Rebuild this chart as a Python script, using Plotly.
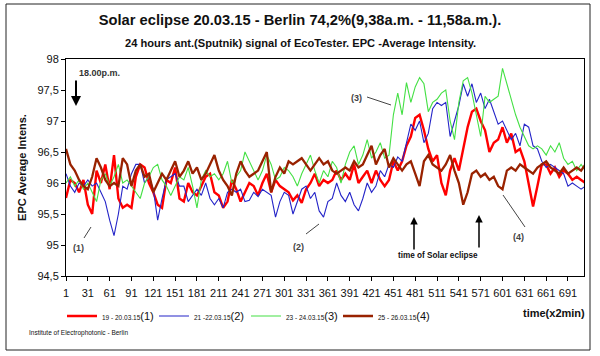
import plotly.graph_objects as go

# sample positions (time index, x2min)
x_idx = list(range(1, 716, 6))

tick_vals = [1, 31, 61, 91, 121, 151, 181, 211, 241, 271, 301, 331, 361, 391,
             421, 451, 481, 511, 541, 571, 601, 631, 661, 691]
y_tick_vals = [94.5, 95, 95.5, 96, 96.5, 97, 97.5, 98]
y_tick_text = ["94,5", "95", "95,5", "96", "96,5", "97", "97,5", "98"]

s1_19_20 = [
    95.76, 96.05, 96.0, 95.85, 96.05, 95.65, 95.5, 96.2, 96.0, 96.3,
    95.9, 96.45, 95.75, 95.6, 95.65, 95.6, 96.1, 96.3, 96.25, 96.0,
    95.85, 95.65, 95.6, 96.05, 96.0, 96.25, 95.75, 95.7, 96.0, 95.85,
    95.8, 95.95, 96.1, 96.15, 95.85, 95.8, 95.6, 95.7, 96.05, 95.9,
    95.7, 95.85, 96.0, 95.95, 95.8, 96.0, 96.15, 95.85, 96.05, 95.95,
    95.9, 95.85, 95.72, 95.8, 95.68, 95.9, 96.0, 96.15, 95.95, 96.05,
    96.0, 96.05, 96.2, 96.05, 96.15, 96.05, 96.3, 96.0, 96.1, 96.2,
    96.0, 96.2, 96.05, 95.95, 96.05, 96.35, 96.2, 96.35, 96.6, 96.75,
    97.05, 97.1, 96.85, 96.55, 96.35, 96.45, 96.0, 95.8, 96.2, 96.4,
    96.2, 96.55, 96.9, 97.15, 97.2, 97.0, 96.85, 96.5, 96.65, 96.7,
    96.9, 96.65, 96.8, 96.5, 96.55, 96.35, 96.0, 95.62, 95.95, 96.3,
    96.3, 96.15, 96.25, 96.1, 96.2, 96.15, 96.05, 96.1, 96.05, 96.0]

s2_21_22 = [
    96.15, 95.95, 95.85, 96.0, 95.95, 96.05, 95.95, 96.0, 95.85, 95.7,
    95.4, 95.15, 95.5, 95.95, 95.9, 96.15, 96.3, 96.3, 96.0, 96.1,
    95.9, 95.4, 95.75, 96.05, 96.1, 96.15, 95.95, 95.95, 95.7, 95.8,
    95.9, 95.8, 96.0, 95.75, 95.65, 95.75, 95.6, 95.85, 95.9, 95.85,
    95.9, 95.7, 95.72, 95.85, 95.78, 95.9, 95.85, 95.8, 95.45, 95.7,
    95.85, 95.8, 95.5, 95.7, 95.9, 95.95, 95.75, 95.85, 95.55, 95.45,
    95.7, 95.75, 96.0, 95.8, 95.7, 95.85, 95.65, 95.55, 95.75, 96.0,
    95.85, 95.95, 96.2, 96.1, 96.3, 96.25, 96.42, 96.35, 96.65, 96.95,
    96.85, 97.0, 96.65, 96.8, 97.2, 97.3, 97.25, 97.3, 96.75, 97.0,
    97.25, 97.6, 97.4, 97.6, 97.3, 97.45, 97.2, 97.35, 97.15, 96.95,
    97.0, 96.85, 96.7, 96.8, 96.6, 96.95, 96.9, 96.6, 96.55, 96.35,
    96.25, 96.3, 96.25, 96.2, 96.15, 95.95, 96.0, 95.95, 95.9, 95.95]

s3_23_24 = [
    96.0, 96.1, 95.95, 96.05, 95.9, 96.0, 95.85, 95.7, 96.05, 96.15,
    95.95, 96.1, 96.3, 96.0, 96.05, 95.95, 95.85, 95.75, 96.0, 96.1,
    96.25, 96.3, 96.05, 95.95, 95.8, 95.95, 96.1, 96.05, 96.25, 95.95,
    95.6, 96.05, 96.2, 96.1, 96.15, 96.05, 96.15, 96.35, 96.0, 96.1,
    96.2, 96.5, 96.35, 96.2, 96.05, 96.2, 96.45, 96.3, 96.05, 96.1,
    96.25, 96.2, 96.1, 95.95, 96.15, 96.3, 96.45, 96.2, 96.0, 96.2,
    96.1, 96.35, 96.25, 96.0, 96.3, 96.5, 96.6, 96.3, 96.45, 96.7,
    96.4, 96.5, 96.65, 96.4, 96.45, 97.1, 97.45, 97.1, 97.62, 97.3,
    97.55, 97.7, 97.6, 97.15, 97.3, 97.35, 97.45, 97.5, 97.0, 96.7,
    97.3, 97.65, 97.7, 97.45, 97.1, 96.75, 97.4, 97.3, 97.35, 97.4,
    97.85, 97.6, 97.35, 97.1, 96.9, 96.75, 96.6, 96.55, 96.6, 96.55,
    96.45, 96.6, 96.5, 96.65, 96.4, 96.3, 96.35, 96.2, 96.3, 96.2]

s4_25_26 = [
    96.55, 96.3, 96.2, 96.05, 95.95, 95.9, 96.1, 96.4, 96.25, 96.05,
    95.95, 96.0, 95.95, 96.4, 96.3, 95.95, 96.2, 96.3, 96.1, 96.15,
    95.85, 96.0, 96.15, 96.05, 96.2, 96.35, 96.1, 96.2, 96.35, 96.15,
    96.25, 96.05, 96.15, 96.3, 96.45, 96.2, 96.05, 95.95, 95.8, 96.15,
    96.35, 96.2, 96.1, 96.15, 96.2, 96.35, 96.5, 95.85, 96.1, 96.25,
    96.15, 96.35, 96.3, 96.35, 96.4, 96.3, 96.2, 96.3, 96.4, 96.3,
    96.35, 96.2, 96.15, 96.2, 96.25, 96.2, 96.35, 96.25, 96.3, 96.45,
    96.6, 96.3, 96.45, 96.55, 96.25, 96.4, 96.3, 96.2, 96.3, 96.35,
    96.15, 95.95, 96.35, 96.45, 96.3, 96.25, 96.2, 96.3, 96.45, 96.2,
    96.0, 95.65, 95.85, 96.15, 96.2, 96.1, 96.15, 96.05, 96.1, 95.95,
    95.9, 96.2, 96.25, 96.2, 96.3, 96.25, 96.2, 96.15, 96.25, 96.3,
    96.35, 96.25, 96.2, 96.15, 96.25, 96.15, 96.2, 96.25, 96.2, 96.3]

series_dates = ["19 - 20.03.15", "21 -22.03.15", "23 - 24.03.15", "25 - 26.03.15"]
series_tags = ["(1)", "(2)", "(3)", "(4)"]
series_vals = [s1_19_20, s2_21_22, s3_23_24, s4_25_26]
colors = ["#FF0000", "#2424C8", "#44E044", "#992200"]
widths = [2.4, 1.1, 1.1, 2.3]

FONT = "Liberation Sans, Arial, sans-serif"

fig = go.Figure()
for d, t, v, c, w in zip(series_dates, series_tags, series_vals, colors, widths):
    fig.add_trace(go.Scatter(
        x=x_idx, y=v, mode="lines",
        line=dict(color=c, width=w),
        name=f"<span style='font-size:6.5px'>{d}</span>{t}"))

# layout helpers: pixel -> paper
L, R, T, B = 66, 16, 59, 80
PW, PH = 600 - L - R, 356 - T - B
def xp(px):
    return (px - L) / PW
def yp(py):
    return (356 - B - py) / PH

def label(text, px, py, size, xanchor="center", color="#111"):
    return dict(text=text, xref="paper", yref="paper", x=xp(px), y=yp(py),
                xanchor=xanchor, yanchor="middle", showarrow=False,
                font=dict(family=FONT, size=size, color=color))

ann = [
    label("<b>24 hours ant.(Sputnik) signal of EcoTester. EPC -Average Intensity.</b>",
          300, 43, 11.1),
    label("<b>time(x2min)</b>", 587, 313, 11, xanchor="right"),
    label("Institute of Electrophotonic - Berlin", 27, 333, 6.5, xanchor="left"),
    label("<b>18.00p.m.</b>", 77, 73, 9, xanchor="left", color="#333"),
    label("<b>time of Solar eclipse</b>", 438, 255, 8.2),
]
ann.append(dict(text="", xref="paper", yref="paper", x=xp(76), y=yp(106), ax=0, ay=-27,
                showarrow=True, arrowhead=2, arrowsize=1, arrowwidth=2, arrowcolor="#000"))
for px_, tip in ((414, 217), (479, 215)):
    ann.append(dict(text="", xref="paper", yref="paper", x=xp(px_), y=yp(tip), ax=0, ay=34,
                    showarrow=True, arrowhead=2, arrowsize=1, arrowwidth=1.5, arrowcolor="#000"))
for txt, (lx, ly) in zip(series_tags, [(78, 248), (298, 247), (356, 98), (518, 237)]):
    ann.append(label(f"<b>{txt}</b>", lx, ly, 9, color="#444"))

shapes = []
for (x0, y0, x1, y1) in [(84, 238, 91, 227), (306, 234, 319, 224),
                         (367, 97, 391, 105), (503, 195, 525, 227)]:
    shapes.append(dict(type="line", xref="paper", yref="paper",
                       x0=xp(x0), y0=yp(y0), x1=xp(x1), y1=yp(y1),
                       line=dict(color="#444", width=1)))
# outer frame
shapes.append(dict(type="rect", xref="paper", yref="paper",
                   x0=xp(6), y0=yp(350), x1=xp(590), y1=yp(4),
                   line=dict(color="#222", width=1), fillcolor="rgba(0,0,0,0)", layer="below"))

fig.update_layout(
    width=600, height=356,
    margin=dict(l=L, r=R, t=T, b=B, autoexpand=False),
    paper_bgcolor="white", plot_bgcolor="white",
    font=dict(family=FONT, color="#111"),
    title=dict(text="<b>Solar eclipse 20.03.15 - Berlin 74,2%(9,38a.m. - 11,58a.m.).</b>",
               xref="container", yref="container", x=0.5, y=1 - 20 / 356,
               xanchor="center", yanchor="middle",
               font=dict(family=FONT, size=14.7, color="#111")),
    xaxis=dict(range=[1, 713], tickmode="array", tickvals=tick_vals,
               ticktext=[str(v) for v in tick_vals],
               ticks="outside", ticklen=4, tickcolor="#000", ticklabelstandoff=3,
               showline=True, linecolor="#000", linewidth=1, mirror=True,
               showgrid=False, zeroline=False, automargin=False,
               tickfont=dict(family=FONT, size=11, color="#111")),
    yaxis=dict(range=[94.5, 98], tickmode="array", tickvals=y_tick_vals,
               ticktext=y_tick_text, ticks="outside", ticklen=4, tickcolor="#000",
               showline=True, linecolor="#000", linewidth=1, mirror=True,
               showgrid=False, zeroline=False, automargin=False,
               tickfont=dict(family=FONT, size=11, color="#111"),
               title=dict(text="<b>EPC Average Intens.</b>", standoff=8,
                          font=dict(family=FONT, size=11, color="#111"))),
    legend=dict(orientation="h", x=xp(62), y=yp(316), xanchor="left", yanchor="middle",
                font=dict(family=FONT, size=11, color="#111"),
                bgcolor="rgba(0,0,0,0)", itemwidth=30, tracegroupgap=0,
                entrywidth=47, entrywidthmode="pixels"),
    annotations=ann, shapes=shapes, showlegend=True,
)

fig.write_html("out.html", config={"displayModeBar": False},
               post_script="document.body.style.margin='0';document.body.style.overflow='hidden';")
